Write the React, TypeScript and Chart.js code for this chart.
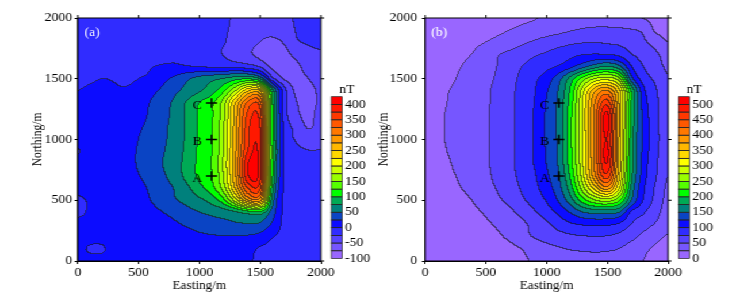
import React, { useEffect, useRef } from 'react';
import { Chart, registerables } from 'chart.js';

Chart.register(...registerables);

const SX = 1.15;
const FONT = '"Liberation Serif", "Times New Roman", Times, serif';

const EASTINGS = [0, 100, 200, 300, 400, 500, 600, 700, 800, 900, 1000, 1100, 1200, 1300, 1400, 1500, 1600, 1700, 1800, 1900, 2000];
const NORTHINGS = [2000, 1900, 1800, 1700, 1600, 1500, 1400, 1300, 1200, 1100, 1000, 900, 800, 700, 600, 500, 400, 300, 200, 100, 0];
const AXIS_TICKS = [0, 500, 1000, 1500, 2000];
const STATION_NAMES = ['A', 'B', 'C'];
const STATION_E = [1100, 1100, 1100];
const STATION_N = [700, 1000, 1300];

const LEVEL_STEP = 25;
const LEVEL_MIN_A = -100;
const LEVEL_MIN_B = 0;
const CB_TICKS_A = [-100, -50, 0, 50, 100, 150, 200, 250, 300, 350, 400];
const CB_TICKS_B = [0, 50, 100, 150, 200, 250, 300, 350, 400, 450, 500];
const BAND_COLORS = [
  '#9966ff', '#7656ff', '#5642ff', '#302cff', '#0c0cff', '#0a44c4', '#00807c', '#00aa55',
  '#00ff00', '#55ff00', '#99ff00', '#ccff00', '#ffff00', '#ffd800', '#ffb800', '#ff9800',
  '#ff7800', '#ff5800', '#ff3800', '#ff1800', '#ff0000',
];

// Panel (a): measured field, rows from N=2000 (top) down to N=0, columns E=0..2000
const GRID_A: number[][] = [
  [-10, -10, -10, -10, -10, -10, -10, -10, -10, -10, -10, -12, -18, -30, -36, -40, -40, -34, -22, -16, -14],
  [-10, -10, -10, -10, -10, -10, -10, -10, -10, -10, -10, -13, -21, -31, -38, -43, -44, -38, -24, -19, -16],
  [-10, -10, -10, -9, -9, -9, -10, -10, -10, -10, -10, -14, -23, -33, -40, -50, -54, -48, -28, -23, -21],
  [-9, -9, -8, -8, -7, -6, -6, -7, -7, -8, -10, -15, -26, -36, -45, -56, -60, -58, -42, -31, -27],
  [-8, -7, -6, -5, -4, -3, -1, 2, 4, 1, -2, -4, -6, -9, -14, -28, -56, -62, -56, -38, -30],
  [-3, -2, 0, -1, -3, 0, 4, 18, 30, 45, 58, 66, 75, 88, 95, 70, -15, -52, -60, -50, -35],
  [0, 2, 3, 2, 2, 8, 18, 30, 45, 58, 72, 88, 120, 175, 245, 250, 90, -12, -55, -60, -44],
  [3, 5, 6, 6, 8, 15, 26, 40, 55, 78, 100, 118, 162, 250, 330, 335, 110, -10, -48, -60, -46],
  [6, 8, 9, 9, 11, 18, 28, 42, 57, 80, 102, 120, 167, 262, 355, 362, 115, -8, -42, -58, -40],
  [8, 9, 10, 10, 13, 22, 31, 45, 58, 80, 103, 122, 170, 266, 365, 378, 115, -5, -30, -52, -40],
  [8, 6, 8, 10, 15, 25, 34, 46, 59, 80, 103, 122, 172, 268, 366, 380, 118, -3, -27, -35, -32],
  [-1, 6, 9, 11, 17, 27, 37, 48, 62, 82, 105, 123, 174, 272, 376, 385, 120, -2, -18, -24, -24],
  [8, 9, 10, 12, 18, 27, 37, 50, 64, 84, 106, 124, 177, 276, 398, 390, 118, 0, -12, -16, -17],
  [8, 8, 9, 11, 16, 24, 33, 46, 62, 83, 105, 122, 174, 272, 395, 385, 112, -2, -12, -14, -15],
  [6, 8, 9, 10, 14, 20, 28, 40, 52, 70, 92, 115, 162, 255, 352, 355, 95, -3, -10, -12, -12],
  [-3, 2, 8, 9, 12, 18, 25, 35, 48, 58, 70, 85, 118, 190, 275, 285, 70, -5, -10, -11, -10],
  [-3, 2, 7, 8, 10, 14, 19, 25, 32, 42, 50, 56, 62, 72, 90, 95, 40, -5, -10, -10, -10],
  [4, 5, 6, 7, 8, 10, 13, 17, 22, 28, 34, 40, 44, 47, 48, 46, 22, -5, -9, -10, -10],
  [3, 4, 4, 5, 6, 7, 9, 11, 14, 17, 21, 23, 24, 24, 23, 18, 2, -6, -9, -10, -10],
  [3, -1, -1, 4, 5, 6, 7, 8, 10, 12, 13, 14, 14, 12, 8, -2, -6, -8, -9, -10, -10],
  [3, 3, 3, 4, 5, 6, 7, 7, 8, 9, 9, 9, 8, 6, 2, -3, -7, -8, -9, -10, -10],
];

// Panel (b): rows from N=2000 (top) down to N=0, columns E=0..2000
const GRID_B: number[][] = [
  [8, 9, 10, 12, 14, 16, 18, 20, 22, 24, 27, 30, 33, 36, 38, 38, 35, 30, 24, 20, 17],
  [9, 10, 12, 14, 17, 20, 22, 25, 29, 33, 38, 43, 48, 52, 54, 54, 53, 51, 45, 22, 18],
  [11, 12, 15, 18, 22, 25, 30, 36, 45, 53, 60, 65, 70, 73, 74, 72, 70, 64, 54, 40, 25],
  [13, 15, 18, 22, 26, 34, 48, 56, 64, 72, 78, 86, 93, 98, 100, 98, 93, 76, 65, 54, 40],
  [15, 17, 21, 25, 31, 40, 51, 62, 75, 84, 93, 102, 118, 140, 162, 175, 155, 102, 75, 60, 46],
  [16, 18, 22, 28, 36, 45, 53, 66, 81, 95, 112, 140, 185, 235, 275, 285, 255, 135, 88, 70, 52],
  [17, 20, 25, 31, 39, 47, 55, 68, 84, 98, 122, 152, 205, 290, 370, 400, 330, 200, 108, 78, 56],
  [18, 21, 26, 32, 39, 47, 56, 69, 84, 100, 126, 156, 212, 300, 400, 465, 345, 200, 115, 82, 56],
  [18, 22, 27, 33, 39, 47, 57, 69, 85, 102, 128, 158, 218, 305, 410, 508, 350, 198, 118, 84, 56],
  [18, 22, 27, 33, 39, 47, 57, 69, 85, 102, 128, 157, 220, 303, 412, 510, 348, 196, 119, 84, 56],
  [17, 22, 27, 33, 39, 47, 57, 69, 84, 102, 128, 156, 220, 300, 410, 500, 345, 190, 120, 85, 55],
  [17, 21, 26, 33, 39, 47, 57, 69, 84, 102, 127, 155, 218, 300, 410, 508, 345, 190, 118, 83, 54],
  [16, 19, 24, 31, 38, 47, 57, 69, 85, 101, 125, 153, 215, 298, 405, 500, 340, 188, 115, 80, 52],
  [14, 17, 22, 28, 36, 45, 56, 68, 82, 97, 120, 148, 205, 290, 395, 465, 330, 185, 112, 78, 50],
  [13, 16, 20, 25, 31, 42, 52, 64, 78, 93, 113, 140, 190, 265, 340, 390, 300, 170, 105, 72, 46],
  [11, 13, 16, 21, 26, 33, 46, 57, 71, 86, 102, 128, 165, 215, 250, 265, 230, 150, 98, 68, 43],
  [9, 11, 14, 18, 22, 27, 34, 45, 58, 72, 88, 105, 128, 150, 160, 160, 150, 97, 78, 58, 40],
  [7, 9, 11, 14, 17, 22, 28, 37, 45, 58, 70, 85, 97, 103, 106, 105, 96, 74, 60, 48, 36],
  [6, 7, 9, 11, 13, 16, 22, 30, 42, 52, 60, 66, 71, 74, 75, 74, 68, 57, 44, 32, 23],
  [5, 6, 7, 8, 10, 12, 15, 19, 26, 34, 42, 48, 52, 54, 55, 54, 50, 40, 30, 22, 18],
  [4, 5, 6, 7, 8, 10, 12, 15, 22, 27, 32, 36, 39, 41, 42, 41, 38, 32, 25, 19, 15],
];

function hexToRgb(h: string): number[] {
  const n = parseInt(h.slice(1), 16);
  return [(n >> 16) & 255, (n >> 8) & 255, n & 255];
}

function catmull(p0: number, p1: number, p2: number, p3: number, t: number) {
  return 0.5 * (2 * p1 + (-p0 + p2) * t + (2 * p0 - 5 * p1 + 4 * p2 - p3) * t * t + (-p0 + 3 * p1 - 3 * p2 + p3) * t * t * t);
}

function sampleGrid(grid: number[][], fx: number, fy: number) {
  const rows = grid.length;
  const cols = grid[0].length;
  const ix = Math.floor(fx);
  const iy = Math.floor(fy);
  const tx = fx - ix;
  const ty = fy - iy;
  const g = (r: number, c: number) => grid[Math.min(rows - 1, Math.max(0, r))][Math.min(cols - 1, Math.max(0, c))];
  const v: number[] = [];
  for (let m = -1; m <= 2; m++) {
    v.push(catmull(g(iy + m, ix - 1), g(iy + m, ix), g(iy + m, ix + 1), g(iy + m, ix + 2), tx));
  }
  return catmull(v[0], v[1], v[2], v[3], ty);
}

type PanelProps = {
  left: number;
  width: number;
  grid: number[][];
  levelMin: number;
  cbTicks: number[];
  tag: string;
  yAxisWidth: number;
  yTitlePad: number;
  yTickPad: number;
};

function Panel(p: PanelProps) {
  const ref = useRef<HTMLCanvasElement>(null);

  useEffect(() => {
    const canvas = ref.current;
    if (!canvas) return;
    const rgb = BAND_COLORS.map(hexToRgb);
    const nBands = BAND_COLORS.length;
    const rightPad = p.width - (p.yAxisWidth + 211.2);

    const contourPlugin = {
      id: 'contourFill',
      beforeDatasetsDraw(chart: any) {
        const { ctx, chartArea } = chart;
        const xs = chart.scales.x;
        const ys = chart.scales.y;
        const w = Math.round(chartArea.right - chartArea.left);
        const h = Math.round(chartArea.bottom - chartArea.top);
        const sx = (chartArea.right - chartArea.left) / w;
        const sy = (chartArea.bottom - chartArea.top) / h;
        const dE = EASTINGS[1] - EASTINGS[0];
        const dN = NORTHINGS[0] - NORTHINGS[1];
        const bands = new Int16Array(w * h);
        for (let j = 0; j < h; j++) {
          const N = ys.getValueForPixel(chartArea.top + (j + 0.5) * sy);
          const fy = (NORTHINGS[0] - N) / dN;
          for (let i = 0; i < w; i++) {
            const E = xs.getValueForPixel(chartArea.left + (i + 0.5) * sx);
            const fx = (E - EASTINGS[0]) / dE;
            const v = sampleGrid(p.grid, fx, fy);
            let b = Math.floor((v - p.levelMin) / LEVEL_STEP);
            if (b < 0) b = 0;
            if (b > nBands - 1) b = nBands - 1;
            bands[j * w + i] = b;
          }
        }
        const off = document.createElement('canvas');
        off.width = w;
        off.height = h;
        const octx = off.getContext('2d')!;
        const img = octx.createImageData(w, h);
        const d = img.data;
        for (let j = 0; j < h; j++) {
          for (let i = 0; i < w; i++) {
            const b = bands[j * w + i];
            const c = rgb[b];
            let line = false;
            if (i < w - 1 && bands[j * w + i + 1] !== b) line = true;
            if (j < h - 1 && bands[(j + 1) * w + i] !== b) line = true;
            const k = (j * w + i) * 4;
            const f = line ? 0.4 : 1;
            d[k] = c[0] * f + 25 * (1 - f);
            d[k + 1] = c[1] * f + 25 * (1 - f);
            d[k + 2] = c[2] * f + 25 * (1 - f);
            d[k + 3] = 255;
          }
        }
        octx.putImageData(img, 0, 0);
        ctx.save();
        ctx.imageSmoothingEnabled = false;
        ctx.drawImage(off, chartArea.left, chartArea.top, chartArea.right - chartArea.left, chartArea.bottom - chartArea.top);
        ctx.strokeStyle = '#000';
        ctx.lineWidth = 1;
        ctx.strokeRect(chartArea.left, chartArea.top, chartArea.right - chartArea.left, chartArea.bottom - chartArea.top);
        ctx.beginPath();
        AXIS_TICKS.forEach((t) => {
          const px = xs.getPixelForValue(t);
          ctx.moveTo(px, chartArea.top);
          ctx.lineTo(px, chartArea.top - 3);
          const py = ys.getPixelForValue(t);
          ctx.moveTo(chartArea.right, py);
          ctx.lineTo(chartArea.right + 3, py);
        });
        ctx.stroke();
        ctx.restore();
      },
      afterDraw(chart: any) {
        const { ctx, chartArea } = chart;
        const xs = chart.scales.x;
        const ys = chart.scales.y;
        ctx.save();
        ctx.fillStyle = '#000';
        ctx.font = `12px ${FONT}`;
        ctx.textAlign = 'center';
        ctx.textBaseline = 'middle';
        STATION_NAMES.forEach((name, i) => {
          const px = xs.getPixelForValue(STATION_E[i]);
          const py = ys.getPixelForValue(STATION_N[i]);
          ctx.fillText(name, px - 12.5, py + 2.5);
        });
        ctx.fillStyle = '#ffffff';
        ctx.fillText(p.tag, chartArea.left + 12.3, chartArea.top + 15);
        const x0 = chartArea.right + 9.1;
        const bw = 9.5;
        const cbBottom = 258.5;
        const cbTop = 96.7;
        const bh = (cbBottom - cbTop) / nBands;
        for (let k = 0; k < nBands; k++) {
          const y = cbBottom - (k + 1) * bh;
          ctx.fillStyle = BAND_COLORS[k];
          ctx.fillRect(x0, y, bw, bh);
        }
        ctx.strokeStyle = '#222';
        ctx.lineWidth = 0.7;
        for (let k = 0; k < nBands; k++) {
          const y = cbBottom - (k + 1) * bh;
          ctx.strokeRect(x0, y, bw, bh);
        }
        ctx.fillStyle = '#000';
        ctx.font = `12px ${FONT}`;
        ctx.textAlign = 'left';
        ctx.textBaseline = 'middle';
        p.cbTicks.forEach((t) => {
          const y = cbBottom - ((t - p.levelMin) / LEVEL_STEP) * bh;
          ctx.fillText(String(t), x0 + bw + 2.4, y);
        });
        ctx.textAlign = 'center';
        ctx.fillText('nT', x0 + bw / 2 + 8.7, 89.5);
        ctx.restore();
      },
    };

    const tickFont = { family: FONT, size: 12 };
    const titleFont = { family: FONT, size: 11.5 };

    const chart = new Chart(canvas, {
      type: 'scatter',
      data: {
        datasets: [
          {
            data: STATION_E.map((e, i) => ({ x: e, y: STATION_N[i] })),
            pointStyle: 'cross',
            radius: 4.8,
            hoverRadius: 4.8,
            borderColor: '#000',
            backgroundColor: '#000',
            borderWidth: 1.5,
          },
        ],
      },
      options: {
        responsive: false,
        animation: false,
        devicePixelRatio: 1,
        events: [],
        layout: { padding: { left: 0, top: 18, right: rightPad, bottom: 0 } },
        plugins: { legend: { display: false }, tooltip: { enabled: false } },
        scales: {
          x: {
            type: 'linear',
            min: 0,
            max: 2000,
            afterBuildTicks: (s: any) => {
              s.ticks = AXIS_TICKS.map((v) => ({ value: v }));
            },
            afterFit: (s: any) => {
              s.height = 37;
            },
            ticks: { color: '#000', padding: 1.5, maxRotation: 0, autoSkip: false, font: tickFont, callback: (v: any) => String(v) },
            grid: { drawOnChartArea: false, drawTicks: true, tickLength: 3, color: '#000', lineWidth: 1 },
            border: { display: true, color: '#000', width: 1 },
            title: { display: true, text: 'Easting/m', color: '#000', font: titleFont, padding: { top: 0, bottom: 5.3 } },
          },
          y: {
            type: 'linear',
            min: 0,
            max: 2000,
            afterBuildTicks: (s: any) => {
              s.ticks = AXIS_TICKS.map((v) => ({ value: v }));
            },
            afterFit: (s: any) => {
              s.width = p.yAxisWidth;
            },
            ticks: { color: '#000', padding: p.yTickPad, autoSkip: false, font: tickFont, callback: (v: any) => String(v) },
            grid: { drawOnChartArea: false, drawTicks: true, tickLength: 3, color: '#000', lineWidth: 1 },
            border: { display: true, color: '#000', width: 1 },
            title: { display: true, text: 'Northing/m', color: '#000', font: titleFont, padding: { top: p.yTitlePad, bottom: 0 } },
          },
        },
      } as any,
      plugins: [contourPlugin],
    });
    return () => chart.destroy();
  }, []);

  return (
    <canvas
      ref={ref}
      width={p.width}
      height={298}
      style={{ position: 'absolute', left: p.left, top: 0, width: p.width, height: 298 }}
    />
  );
}

export default function App() {
  return (
    <div
      style={{
        position: 'absolute',
        left: 0,
        top: 0,
        width: 746 / SX,
        height: 298,
        transform: `scaleX(${SX})`,
        transformOrigin: '0 0',
        background: '#fff',
      }}
    >
      <Panel left={0} width={324} grid={GRID_A} levelMin={LEVEL_MIN_A} cbTicks={CB_TICKS_A} tag="(a)" yAxisWidth={67.8} yTitlePad={26} yTickPad={2} />
      <Panel left={324} width={325} grid={GRID_B} levelMin={LEVEL_MIN_B} cbTicks={CB_TICKS_B} tag="(b)" yAxisWidth={45.8} yTitlePad={3} yTickPad={4} />
    </div>
  );
}
